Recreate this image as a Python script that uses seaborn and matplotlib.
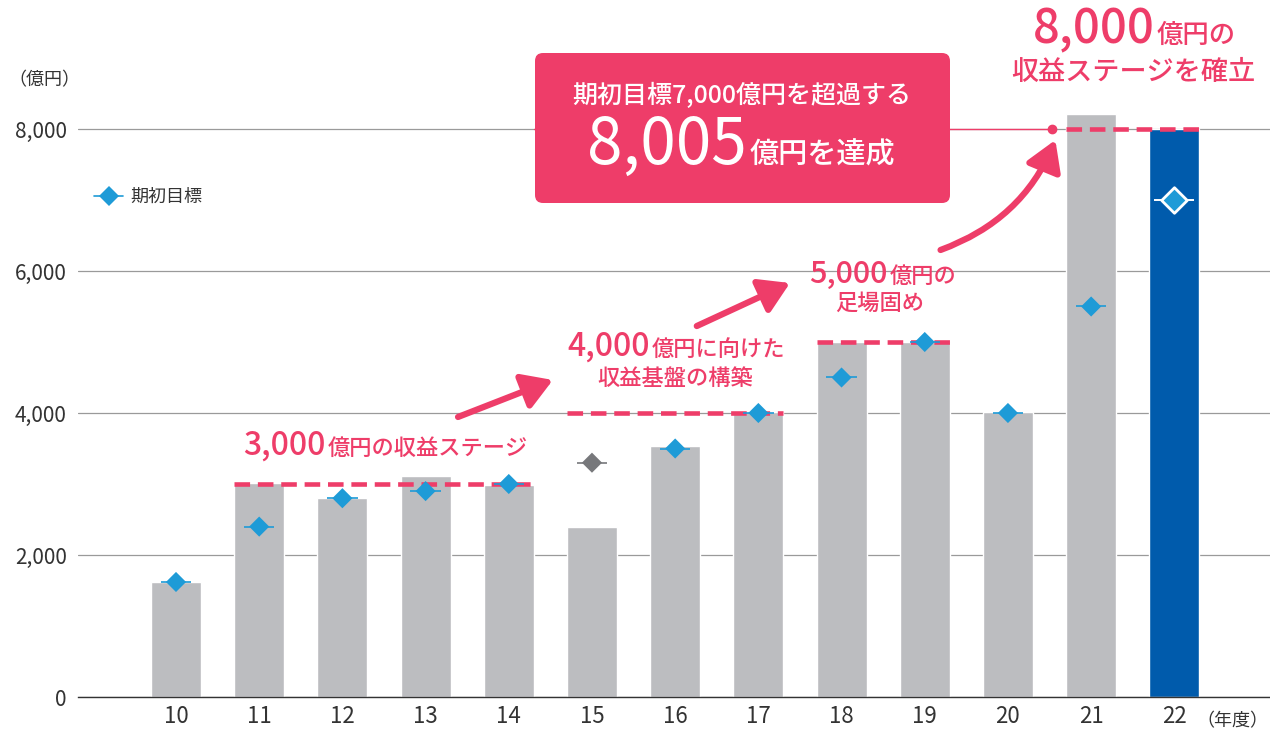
import numpy as np
import pandas as pd
import seaborn as sns
import matplotlib.pyplot as plt
from matplotlib.lines import Line2D
from matplotlib.patches import FancyBboxPatch

# データ (億円)
years = ['10', '11', '12', '13', '14', '15', '16', '17', '18', '19', '20', '21', '22']
actual = [1620, 3010, 2800, 3110, 2990, 2400, 3530, 4020, 5000, 5000, 4010, 8210, 8005]
target = [1620, 2400, 2800, 2900, 3000, 3300, 3500, 4000, 4500, 5000, 4000, 5500, 7000]
bar_colors = ['#BCBDC0'] * 12 + ['#005BAC']
target_colors = ['#1E9BD7'] * 5 + ['#77787B'] + ['#1E9BD7'] * 7
stage_levels = [3000, 4000, 5000, 8000]
stage_spans = [(1, 4), (5, 7), (8, 9), (11, 12)]

sns.set_theme(style='white')
plt.rcParams['font.family'] = ['Noto Sans CJK JP', 'DejaVu Sans']

PINK = '#EE3D69'
GRAY_TXT = '#333333'
W, H = 1270, 734


def fx(x):
    return x / W


def fy(y):
    return 1 - y / H


fig = plt.figure(figsize=(W / 100, H / 100), dpi=100)
ax = fig.add_axes([78 / W, 37 / H, 1 - 78 / W, 639 / H])

df = pd.DataFrame({'year': years, 'actual': actual, 'target': target})
sns.barplot(data=df, x='year', y='actual', hue='year', palette=bar_colors,
            width=0.6, saturation=1, legend=False, ax=ax, zorder=2)

xs = np.arange(len(years))
# 期初目標 (ひし形 + 横線)
ax.scatter(xs[:-1], target[:-1], marker='_', s=480, c=target_colors[:-1], linewidths=1.2, zorder=5)
ax.scatter(xs[:-1], target[:-1], marker='D', s=105, c=target_colors[:-1], linewidths=0, zorder=6)
ax.scatter(xs[-1:], target[-1:], marker='_', s=840, c='white', linewidths=1.4, zorder=5)
ax.scatter(xs[-1:], target[-1:], marker='D', s=170, c=target_colors[-1:], edgecolors='white',
           linewidths=2, zorder=6)

ax.set_xlim(-1.178, 13.15)
ax.set_ylim(0, 9000)
ax.set_yticks([0, 2000, 4000, 6000, 8000])
ax.set_yticklabels(['{:,}'.format(v) for v in [0, 2000, 4000, 6000, 8000]])
ax.yaxis.grid(True, color='#9A9A9A', lw=0.9)
ax.set_axisbelow(True)
ax.set_xlabel('')
ax.set_ylabel('')
for s in ['top', 'right', 'left']:
    ax.spines[s].set_visible(False)
ax.spines['bottom'].set_color('#333333')
ax.spines['bottom'].set_linewidth(1)
ax.tick_params(axis='y', length=0, pad=8, labelsize=15, labelcolor=GRAY_TXT)
ax.tick_params(axis='x', length=0, pad=6, labelsize=16, labelcolor=GRAY_TXT)

# 収益ステージの破線
for lvl, (a, b) in zip(stage_levels, stage_spans):
    ax.hlines(lvl, a - 0.3, b + 0.3, colors=PINK, lw=3.3, linestyles=(0, (3.4, 1.7)), zorder=4)

# 吹き出しから8,000への線
ax.plot([4.3, 10.53], [8000, 8000], color=PINK, lw=1, zorder=3, clip_on=False)
ax.plot([10.53], [8000], 'o', color=PINK, ms=6, zorder=3)

# 矢印
arrow_kw = dict(arrowstyle='-|>,head_length=0.9,head_width=0.55', color=PINK, lw=4.5,
                mutation_scale=20, shrinkA=0, shrinkB=0)
ax.annotate('', xy=(4.53, 4465), xytext=(3.39, 3944), arrowprops=arrow_kw, zorder=7)
ax.annotate('', xy=(7.38, 5831), xytext=(6.26, 5225), arrowprops=arrow_kw, zorder=7)
ax.annotate('', xy=(10.57, 7845), xytext=(9.19, 6296),
            arrowprops=dict(arrow_kw, connectionstyle='arc3,rad=0.22'), zorder=7)

# 吹き出しボックス
box = FancyBboxPatch((fx(535), fy(203)), 415 / W, 150 / H,
                     boxstyle='round,pad=0,rounding_size={}'.format(8 / W),
                     mutation_aspect=W / H, transform=fig.transFigure,
                     facecolor='#EE3D69', edgecolor='none', zorder=10)
fig.add_artist(box)
fig.text(fx(742), fy(96), '期初目標7,000億円を超過する', ha='center', va='center',
         color='white', fontsize=18, fontweight='medium', zorder=11)
fig.text(fx(747), fy(164), '8,005', ha='right', va='baseline', color='white',
         fontsize=46, zorder=11)
fig.text(fx(750), fy(164), '億円を達成', ha='left', va='baseline', color='white',
         fontsize=21, fontweight='medium', zorder=11)


# 注記テキスト
def stage_label(xj, yb, num, rest, numsize=23, restsize=16):
    fig.text(fx(xj - 1), fy(yb), num, ha='right', va='baseline', color=PINK,
             fontsize=numsize, fontweight='medium')
    fig.text(fx(xj + 1), fy(yb), rest, ha='left', va='baseline', color=PINK,
             fontsize=restsize, fontweight='medium')


stage_label(327, 455, '3,000', '億円の収益ステージ')
stage_label(651, 356, '4,000', '億円に向けた')
fig.text(fx(675), fy(378), '収益基盤の構築', ha='center', va='center', color=PINK,
         fontsize=16, fontweight='medium')
stage_label(889, 283, '5,000', '億円の', numsize=22)
fig.text(fx(880), fy(303), '足場固め', ha='center', va='center', color=PINK,
         fontsize=16, fontweight='medium')
stage_label(1156, 43, '8,000', '億円の', numsize=34, restsize=19)
fig.text(fx(1133), fy(72), '収益ステージを確立', ha='center', va='center', color=PINK,
         fontsize=19.5, fontweight='medium')

# 単位
fig.text(fx(8), fy(80), '（億円）', ha='left', va='center', color=GRAY_TXT, fontsize=13)
fig.text(fx(1268), fy(721), '（年度）', ha='right', va='center', color=GRAY_TXT, fontsize=13)

# 凡例
handle = Line2D([], [], color='#1E9BD7', lw=1.2, marker='D', markersize=10,
                markeredgewidth=0)
ax.legend([handle], ['期初目標'], loc='center left',
          bbox_to_anchor=(0 / (W - 78), (697 - 197) / 639),
          frameon=False, fontsize=13, handlelength=1.6, handletextpad=0.4,
          labelcolor=GRAY_TXT)

fig.savefig('out.png', dpi=100)
